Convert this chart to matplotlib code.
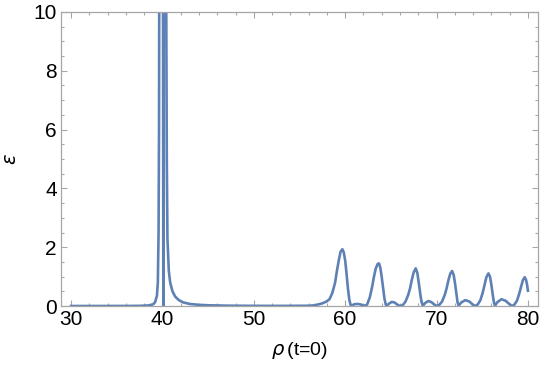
import matplotlib.pyplot as plt
from matplotlib.ticker import MultipleLocator

# rho(t=0) sample points
rho = [30.0, 33.0, 36.0, 37.5, 38.5, 39.0, 39.2, 39.4, 39.5, 39.58, 39.63, 39.66,
       39.8, 40.0, 40.06, 40.1, 40.14, 40.3, 40.4, 40.48, 40.55, 40.7, 40.85,
       41.1, 41.4, 41.8, 42.3, 43.0, 44.0, 45.0, 47.0, 50.0, 53.0, 55.0,
       56.0, 56.5, 57.0, 57.5, 58.0, 58.3, 58.6, 58.9, 59.1, 59.3, 59.5, 59.7,
       59.85, 60.0, 60.15, 60.3, 60.45, 60.6, 60.75, 61.0, 61.3, 61.6, 61.9, 62.2,
       62.4, 62.7, 62.95, 63.15, 63.35, 63.55, 63.7, 63.85, 64.0, 64.15, 64.3,
       64.45, 64.55, 64.8, 65.1, 65.4, 65.7, 66.0,
       66.3, 66.6, 66.9, 67.1, 67.3, 67.5, 67.72, 67.9, 68.05, 68.2, 68.35,
       68.5, 68.75, 69.1, 69.45, 69.75, 70.0,
       70.3, 70.6, 70.9, 71.1, 71.3, 71.5, 71.7, 71.88, 72.03, 72.18, 72.3,
       72.42, 72.7, 73.15, 73.6, 73.95, 74.2,
       74.5, 74.8, 75.05, 75.25, 75.45, 75.68, 75.85, 76.0, 76.15, 76.28,
       76.4, 76.65, 77.1, 77.55, 77.95, 78.25,
       78.5, 78.8, 79.05, 79.25, 79.45, 79.65, 79.8, 79.92, 80.0]

eps = [0.0, 0.0, 0.002, 0.006, 0.02, 0.06, 0.13, 0.35, 0.8, 2.5, 6.0, 12.0,
       40.0, 30.0, 12.0, 0.0, 12.0, 40.0, 12.0, 5.0, 2.3, 1.2, 0.8,
       0.5, 0.32, 0.2, 0.12, 0.07, 0.04, 0.025, 0.012, 0.006, 0.004, 0.007,
       0.01, 0.02, 0.05, 0.09, 0.16, 0.24, 0.45, 0.8, 1.2, 1.55, 1.85, 1.93,
       1.82, 1.55, 1.1, 0.6, 0.22, 0.03, 0.02, 0.06, 0.07, 0.06, 0.03, 0.01,
       0.05, 0.3, 0.65, 1.0, 1.28, 1.43, 1.45, 1.3, 0.98, 0.6, 0.25,
       0.04, 0.01, 0.08, 0.14, 0.12, 0.05, 0.0,
       0.03, 0.15, 0.38, 0.6, 0.9, 1.15, 1.28, 1.12, 0.8, 0.45, 0.15,
       0.01, 0.1, 0.17, 0.13, 0.05, 0.0,
       0.04, 0.15, 0.38, 0.6, 0.88, 1.1, 1.19, 1.05, 0.75, 0.4, 0.12,
       0.01, 0.12, 0.2, 0.15, 0.05, 0.0,
       0.05, 0.2, 0.45, 0.72, 0.98, 1.11, 1.0, 0.72, 0.38, 0.12,
       0.01, 0.13, 0.23, 0.18, 0.07, 0.0,
       0.04, 0.18, 0.42, 0.66, 0.88, 0.98, 0.88, 0.7, 0.52]

x_ticks = [30, 40, 50, 60, 70, 80]
y_ticks = [0, 2, 4, 6, 8, 10]

plt.rcParams['font.family'] = ['Liberation Sans', 'DejaVu Sans']
plt.rcParams['mathtext.fontset'] = 'dejavusans'

fig = plt.figure(figsize=(5.42, 3.69), dpi=100)
ax = fig.add_axes([0.1125, 0.1707, 0.8801, 0.7968])

ax.plot(rho, eps, color='#5E81B5', lw=1.9, solid_joinstyle='round')

ax.set_xlim(28.9, 81.1)
ax.set_ylim(0, 10)
ax.set_xticks(x_ticks)
ax.set_yticks(y_ticks)
ax.xaxis.set_minor_locator(MultipleLocator(2))
ax.yaxis.set_minor_locator(MultipleLocator(0.5))

frame = '#a6a6a6'
for s in ax.spines.values():
    s.set_color(frame)
    s.set_linewidth(0.9)
ax.tick_params(which='both', direction='in', top=True, right=True,
               color=frame, labelsize=15, labelcolor='black', width=0.8)
ax.tick_params(which='major', length=4.5, pad=3)
ax.tick_params(which='minor', length=2.5)

ax.set_xlabel(r'$\rho\,$(t=0)', fontsize=14, color='black', labelpad=8)
ax.set_ylabel(r'$\epsilon$', fontsize=14, color='black', labelpad=10)

fig.savefig('out.png', dpi=100)
